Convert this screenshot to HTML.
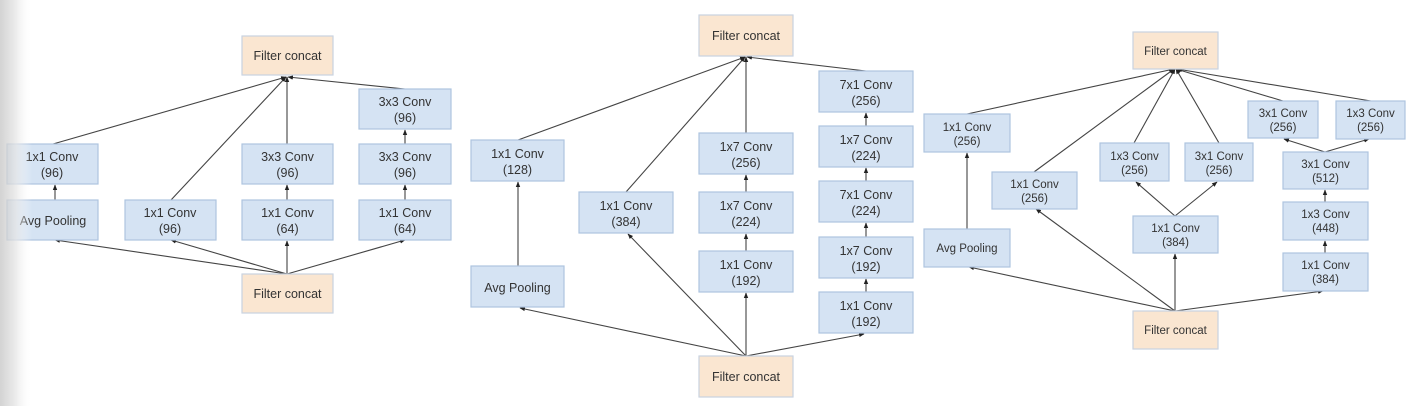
<!DOCTYPE html>
<html><head><meta charset="utf-8"><style>
html,body{margin:0;padding:0;width:1426px;height:406px;overflow:hidden;background:#fff}
svg{display:block}
text{font-family:"Liberation Sans",sans-serif;font-size:12.5px;fill:#333;text-anchor:middle}
.b{fill:#d5e3f3;stroke:#aec4df;stroke-width:1.2}
.f{fill:#fae6d1;stroke:#c9d3e0;stroke-width:1.2}
line{stroke:#444;stroke-width:1.1}
</style></head><body>
<svg width="1426" height="406" viewBox="0 0 1426 406">
<defs>
<linearGradient id="g" x1="0" x2="1" y1="0" y2="0">
<stop offset="0" stop-color="#c4c4c4"/><stop offset="0.5" stop-color="#e6e6e6"/><stop offset="1" stop-color="#fff" stop-opacity="0"/>
</linearGradient>
<marker id="a" viewBox="0 0 10 10" refX="9" refY="5" markerWidth="5" markerHeight="5" orient="auto"><path d="M0,1 L10,5 L0,9 z" fill="#222"/></marker>
</defs>
<g marker-end="url(#a)">
<!-- left -->
<line x1="53" y1="144" x2="286" y2="77"/>
<line x1="171" y1="200" x2="286" y2="77"/>
<line x1="287" y1="144" x2="287" y2="77"/>
<line x1="405" y1="89" x2="288" y2="77"/>
<line x1="55" y1="200" x2="55" y2="185"/>
<line x1="287" y1="200" x2="287" y2="185"/>
<line x1="405" y1="200" x2="405" y2="185"/>
<line x1="405" y1="144" x2="405" y2="130"/>
<line x1="287" y1="274" x2="55" y2="240"/>
<line x1="287" y1="274" x2="171" y2="240"/>
<line x1="287" y1="274" x2="287" y2="241"/>
<line x1="287" y1="274" x2="405" y2="240"/>
<!-- middle -->
<line x1="518" y1="140" x2="745" y2="57"/>
<line x1="626" y1="192" x2="745" y2="57"/>
<line x1="746" y1="133" x2="746" y2="57"/>
<line x1="866" y1="71" x2="747" y2="57"/>
<line x1="518" y1="266" x2="518" y2="182"/>
<line x1="746" y1="192" x2="746" y2="175"/>
<line x1="746" y1="251" x2="746" y2="234"/>
<line x1="866" y1="126" x2="866" y2="113"/>
<line x1="866" y1="181" x2="866" y2="168"/>
<line x1="866" y1="237" x2="866" y2="223"/>
<line x1="866" y1="292" x2="866" y2="279"/>
<line x1="746" y1="356" x2="520" y2="308"/>
<line x1="746" y1="356" x2="628" y2="234"/>
<line x1="746" y1="356" x2="746" y2="293"/>
<line x1="746" y1="356" x2="864" y2="334"/>
<!-- right -->
<line x1="967" y1="114" x2="1174" y2="69"/>
<line x1="1034" y1="172" x2="1174" y2="69"/>
<line x1="1134" y1="143" x2="1175" y2="69"/>
<line x1="1219" y1="143" x2="1176" y2="69"/>
<line x1="1283" y1="101" x2="1176" y2="69"/>
<line x1="1371" y1="101" x2="1177" y2="69"/>
<line x1="967" y1="229" x2="967" y2="153"/>
<line x1="1175" y1="216" x2="1136" y2="182"/>
<line x1="1175" y1="216" x2="1217" y2="182"/>
<line x1="1325" y1="152" x2="1284" y2="139"/>
<line x1="1325" y1="152" x2="1369" y2="139"/>
<line x1="1325" y1="202" x2="1325" y2="190"/>
<line x1="1325" y1="253" x2="1325" y2="241"/>
<line x1="1175" y1="311" x2="969" y2="267"/>
<line x1="1175" y1="311" x2="1036" y2="209"/>
<line x1="1175" y1="311" x2="1175" y2="254"/>
<line x1="1175" y1="311" x2="1323" y2="291"/>
</g>
<!-- left boxes -->
<rect class="f" x="242" y="36" width="91" height="39"/><text x="287.5" y="60">Filter concat</text>
<rect class="f" x="242" y="274" width="91" height="39"/><text x="287.5" y="298">Filter concat</text>
<rect class="b" x="7" y="144" width="91" height="40"/><text x="52" y="161">1x1 Conv</text><text x="52" y="177">(96)</text>
<rect class="b" x="7" y="200" width="91" height="40"/><text x="53" y="225">Avg Pooling</text>
<rect class="b" x="125" y="200" width="91" height="40"/><text x="170" y="217">1x1 Conv</text><text x="170" y="233">(96)</text>
<rect class="b" x="242" y="144" width="91" height="40"/><text x="287.5" y="161">3x3 Conv</text><text x="287.5" y="177">(96)</text>
<rect class="b" x="242" y="200" width="91" height="40"/><text x="287.5" y="217">1x1 Conv</text><text x="287.5" y="233">(64)</text>
<rect class="b" x="359" y="89" width="92" height="40"/><text x="405" y="106">3x3 Conv</text><text x="405" y="122">(96)</text>
<rect class="b" x="359" y="144" width="92" height="40"/><text x="405" y="161">3x3 Conv</text><text x="405" y="177">(96)</text>
<rect class="b" x="359" y="200" width="92" height="40"/><text x="405" y="217">1x1 Conv</text><text x="405" y="233">(64)</text>
<!-- middle boxes -->
<rect class="f" x="699" y="15" width="94" height="41"/><text x="746" y="40">Filter concat</text>
<rect class="f" x="699" y="356" width="94" height="41"/><text x="746" y="381">Filter concat</text>
<rect class="b" x="471" y="140" width="93" height="41"/><text x="517.5" y="158">1x1 Conv</text><text x="517.5" y="174">(128)</text>
<rect class="b" x="471" y="266" width="93" height="41"/><text x="517.5" y="292">Avg Pooling</text>
<rect class="b" x="579" y="192" width="94" height="41"/><text x="626" y="210">1x1 Conv</text><text x="626" y="226">(384)</text>
<rect class="b" x="699" y="133" width="94" height="41"/><text x="746" y="151">1x7 Conv</text><text x="746" y="167">(256)</text>
<rect class="b" x="699" y="192" width="94" height="41"/><text x="746" y="210">1x7 Conv</text><text x="746" y="226">(224)</text>
<rect class="b" x="699" y="251" width="94" height="41"/><text x="746" y="269">1x1 Conv</text><text x="746" y="285">(192)</text>
<rect class="b" x="819" y="71" width="94" height="41"/><text x="866" y="89">7x1 Conv</text><text x="866" y="105">(256)</text>
<rect class="b" x="819" y="126" width="94" height="41"/><text x="866" y="144">1x7 Conv</text><text x="866" y="160">(224)</text>
<rect class="b" x="819" y="181" width="94" height="41"/><text x="866" y="199">7x1 Conv</text><text x="866" y="215">(224)</text>
<rect class="b" x="819" y="237" width="94" height="41"/><text x="866" y="255">1x7 Conv</text><text x="866" y="271">(192)</text>
<rect class="b" x="819" y="292" width="94" height="41"/><text x="866" y="310">1x1 Conv</text><text x="866" y="326">(192)</text>
<!-- right boxes -->
<g style="font-size:11.5px">
<rect class="f" x="1133" y="32" width="85" height="37"/><text x="1175.5" y="55" style="font-size:11.5px">Filter concat</text>
<rect class="f" x="1133" y="311" width="85" height="38"/><text x="1175.5" y="334" style="font-size:11.5px">Filter concat</text>
<rect class="b" x="924" y="114" width="86" height="38"/><text x="967" y="131" style="font-size:11.5px">1x1 Conv</text><text x="967" y="145" style="font-size:11.5px">(256)</text>
<rect class="b" x="924" y="229" width="86" height="38"/><text x="967" y="252" style="font-size:11.5px">Avg Pooling</text>
<rect class="b" x="992" y="172" width="85" height="37"/><text x="1034.5" y="188" style="font-size:11.5px">1x1 Conv</text><text x="1034.5" y="202" style="font-size:11.5px">(256)</text>
<rect class="b" x="1100" y="143" width="69" height="38"/><text x="1134.5" y="160" style="font-size:11.5px">1x3 Conv</text><text x="1134.5" y="174" style="font-size:11.5px">(256)</text>
<rect class="b" x="1185" y="143" width="68" height="38"/><text x="1219" y="160" style="font-size:11.5px">3x1 Conv</text><text x="1219" y="174" style="font-size:11.5px">(256)</text>
<rect class="b" x="1133" y="216" width="85" height="37"/><text x="1175.5" y="232" style="font-size:11.5px">1x1 Conv</text><text x="1175.5" y="246" style="font-size:11.5px">(384)</text>
<rect class="b" x="1248" y="101" width="70" height="37"/><text x="1283" y="117" style="font-size:11.5px">3x1 Conv</text><text x="1283" y="131" style="font-size:11.5px">(256)</text>
<rect class="b" x="1336" y="101" width="69" height="38"/><text x="1370.5" y="117" style="font-size:11.5px">1x3 Conv</text><text x="1370.5" y="131" style="font-size:11.5px">(256)</text>
<rect class="b" x="1283" y="152" width="85" height="37"/><text x="1325.5" y="168" style="font-size:11.5px">3x1 Conv</text><text x="1325.5" y="182" style="font-size:11.5px">(512)</text>
<rect class="b" x="1283" y="202" width="85" height="38"/><text x="1325.5" y="218" style="font-size:11.5px">1x3 Conv</text><text x="1325.5" y="232" style="font-size:11.5px">(448)</text>
<rect class="b" x="1283" y="253" width="85" height="38"/><text x="1325.5" y="269" style="font-size:11.5px">1x1 Conv</text><text x="1325.5" y="283" style="font-size:11.5px">(384)</text>
</g>
<rect x="0" y="0" width="32" height="406" fill="url(#g)" opacity="0.75"/>
</svg>
</body></html>
